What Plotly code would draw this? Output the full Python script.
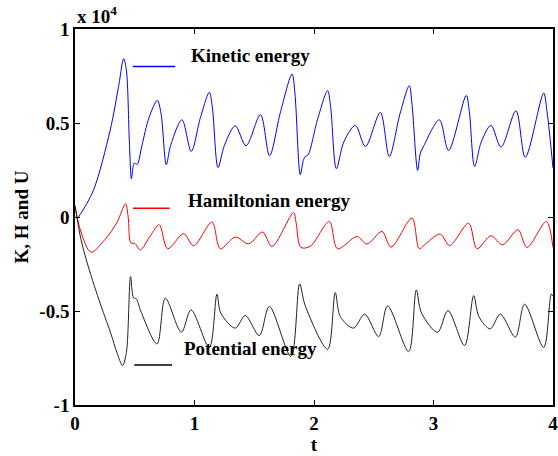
import plotly.graph_objects as go

# values in units of 1e4
t_k = [0, 0.02, 0.05, 0.156, 0.295, 0.365, 0.407, 0.43, 0.455, 0.472, 0.487, 0.497, 0.52, 0.56, 0.62, 0.689, 0.72,
       0.764, 0.80, 0.895, 0.973, 1.05, 1.124, 1.15, 1.197, 1.25, 1.341, 1.431, 1.552, 1.628, 1.72, 1.816, 1.84,
       1.885, 1.91, 1.927, 1.95, 2.03, 2.114, 2.14, 2.187, 2.25, 2.346, 2.430, 2.555, 2.630, 2.72, 2.797, 2.82,
       2.867, 2.89, 2.92, 3.049, 3.126, 3.274, 3.30, 3.344, 3.40, 3.481, 3.565, 3.690, 3.768, 3.922, 3.95, 4.0]
kinetic = [0.0, -0.005, 0.02, 0.145, 0.464, 0.695, 0.842, 0.78, 0.40, 0.203, 0.27, 0.287, 0.28, 0.38, 0.53, 0.62, 0.55,
           0.278, 0.38, 0.517, 0.349, 0.53, 0.663, 0.58, 0.263, 0.38, 0.485, 0.379, 0.544, 0.326, 0.56, 0.760, 0.66,
           0.225, 0.30, 0.322, 0.33, 0.52, 0.672, 0.58, 0.257, 0.40, 0.487, 0.375, 0.556, 0.322, 0.55, 0.698, 0.60,
           0.248, 0.34, 0.38, 0.517, 0.354, 0.647, 0.56, 0.269, 0.40, 0.487, 0.372, 0.565, 0.317, 0.659, 0.56, 0.26]

t_h = [0, 0.05, 0.134, 0.25, 0.35, 0.423, 0.445, 0.468, 0.50, 0.546, 0.63, 0.705, 0.775, 0.909, 0.993, 1.146,
       1.216, 1.341, 1.453, 1.570, 1.648, 1.829, 1.85, 1.891, 1.97, 2.128, 2.197, 2.360, 2.443, 2.569, 2.644,
       2.820, 2.881, 2.94, 3.057, 3.135, 3.294, 3.364, 3.481, 3.578, 3.707, 3.782, 3.944, 4.0]
hamiltonian = [0.06, -0.08, -0.187, -0.12, -0.03, 0.070, 0.0, -0.139, -0.14, -0.175, -0.10, -0.041, -0.169, -0.089,
               -0.153, -0.027, -0.169, -0.107, -0.143, -0.080, -0.157, 0.024, -0.03, -0.162, -0.155, -0.024, -0.169,
               -0.104, -0.144, -0.077, -0.160, -0.006, -0.169, -0.139, -0.091, -0.152, -0.033, -0.169, -0.100,
               -0.148, -0.068, -0.162, -0.024, -0.162]

t_u = [0, 0.05, 0.1, 0.2, 0.3, 0.35, 0.398, 0.43, 0.465, 0.49, 0.513, 0.55, 0.686, 0.756, 0.890, 0.971, 1.124,
       1.188, 1.22, 1.341, 1.425, 1.542, 1.626, 1.807, 1.880, 1.927, 2.114, 2.178, 2.22, 2.331, 2.424, 2.541,
       2.616, 2.792, 2.856, 2.90, 3.034, 3.121, 3.260, 3.336, 3.38, 3.475, 3.559, 3.685, 3.762, 3.922, 3.986, 4.0]
potential = [0.06, -0.12, -0.24, -0.44, -0.62, -0.72, -0.790, -0.72, -0.317, -0.43, -0.435, -0.50, -0.675, -0.432,
             -0.613, -0.494, -0.694, -0.410, -0.511, -0.591, -0.524, -0.631, -0.476, -0.742, -0.356, -0.473, -0.703,
             -0.402, -0.53, -0.591, -0.517, -0.636, -0.473, -0.716, -0.388, -0.511, -0.613, -0.498, -0.684, -0.418,
             -0.53, -0.595, -0.517, -0.639, -0.464, -0.694, -0.410, -0.42]

x_ticks = [0, 1, 2, 3, 4]
y_ticks = [-1, -0.5, 0, 0.5, 1]
y_tick_text = ["-1", "-0.5", "0", "0.5", "1"]

FONT = "Times New Roman, Liberation Serif, serif"

fig = go.Figure()
for tt, yy, col in [(t_k, kinetic, "#0000ff"), (t_h, hamiltonian, "#ff0000"), (t_u, potential, "#222222")]:
    fig.add_trace(go.Scatter(x=tt, y=yy, mode="lines", line=dict(color=col, width=1, shape="spline", smoothing=0.9),
                             showlegend=False, hoverinfo="skip"))

labels = [("Kinetic energy", "#0000ff", 0.485, 0.839, 0.801, 0.956, 0.858),
          ("Hamiltonian energy", "#ff0000", 0.485, 0.792, 0.047, 0.929, 0.086),
          ("Potential energy", "#000000", 0.496, 0.812, -0.787, 0.898, -0.70)]
for txt, col, x0, x1, ly, tx, ty in labels:
    fig.add_shape(type="line", x0=x0, x1=x1, y0=ly, y1=ly, xref="x", yref="y", line=dict(color=col, width=1.5))
    fig.add_annotation(x=tx, y=ty, xref="x", yref="y", text=f"<b>{txt}</b>", showarrow=False, xanchor="left",
                       yanchor="middle", font=dict(family=FONT, size=19, color="black"))

fig.add_annotation(x=0, y=1, xref="paper", yref="paper", xanchor="left", yanchor="bottom", yshift=0,
                   text="<b>x 10<sup>4</sup></b>", showarrow=False, font=dict(family=FONT, size=19, color="black"))

axis_common = dict(showline=True, linecolor="black", linewidth=1.5, mirror="ticks", ticks="inside", ticklen=5,
                   tickcolor="black", tickwidth=1, showgrid=False, zeroline=False, automargin=False,
                   ticklabeloverflow="allow", tickfont=dict(family=FONT, size=19, color="black"))
fig.update_xaxes(range=[0, 4], tickvals=x_ticks, ticktext=[f"<b>{v}</b>" for v in x_ticks],
                 title=dict(text="<b>t</b>", standoff=0, font=dict(family=FONT, size=19, color="black")),
                 **axis_common)
fig.update_yaxes(range=[-1, 1], tickvals=y_ticks, ticktext=[f"<b>{s}</b>" for s in y_tick_text],
                 title=dict(text="<b>K, H and U</b>", standoff=6, font=dict(family=FONT, size=19, color="black")),
                 **axis_common)
fig.update_layout(width=558, height=456, margin=dict(l=75, r=5, t=29, b=51, autoexpand=False),
                  plot_bgcolor="white", paper_bgcolor="white", font=dict(family=FONT, size=19, color="black"))
fig.write_html("out.html")
